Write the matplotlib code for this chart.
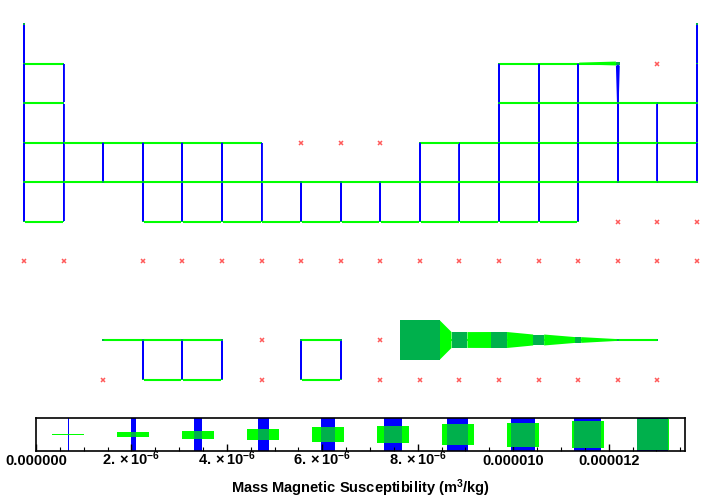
import numpy as np
import matplotlib
matplotlib.use("Agg")
import matplotlib.pyplot as plt
from matplotlib.patches import Polygon, Rectangle
import matplotlib.transforms as mtransforms

plt.rcParams['font.family'] = ['Liberation Sans', 'DejaVu Sans']
plt.rcParams['mathtext.fontset'] = 'custom'
plt.rcParams['mathtext.rm'] = 'Liberation Sans:bold'
plt.rcParams['mathtext.it'] = 'Liberation Sans:bold'
plt.rcParams['mathtext.bf'] = 'Liberation Sans:bold'
plt.rcParams['mathtext.default'] = 'bf'

E = None          # no element in this cell
M = np.nan        # element without data

# Mass magnetic susceptibility (m^3/kg), periodic-table layout (18 columns)
period1 = [-2.48e-8, E, E, E, E, E, E, E, E, E, E, E, E, E, E, E, E, -5.9e-9]
period2 = [2.56e-8, -1.3e-8, E, E, E, E, E, E, E, E, E, E,
           -8.7e-9, -6.2e-9, -5.4e-9, 1.335e-6, M, -4.1e-9]
period3 = [8.8e-9, 6.9e-9, E, E, E, E, E, E, E, E, E, E,
           7.8e-9, -1.6e-9, -1.13e-8, -6.2e-9, -7.2e-9, -6.0e-9]
period4 = [6.7e-9, 1.38e-8, 8.8e-8, 4.01e-8, 6.28e-8, 4.45e-8, 1.21e-7, M, M, M,
           -1.08e-9, -2.21e-9, -3.0e-9, -1.5e-9, -3.9e-9, -4.0e-9, -4.9e-9, -4.4e-9]
period5 = [2.6e-9, 1.32e-9, 2.15e-8, 1.66e-8, 2.76e-8, 1.17e-8, 3.4e-8, 5.4e-9, 1.36e-8,
           6.57e-8, -2.31e-9, -2.3e-9, -1.4e-9, -3.1e-9, -8.5e-9, -3.9e-9, -4.5e-9, -4.3e-9]
period6 = [2.8e-9, 1.13e-8, E, 5.3e-9, 1.07e-8, 4.59e-9, 4.56e-9, 5.2e-10, 1.67e-9,
           1.22e-8, -1.78e-9, -2.1e-9, -3.0e-9, -1.5e-9, -1.7e-8, M, M, M]
period7 = [M, M, E, M, M, M, M, M, M, M, M, M, M, M, M, M, M, M]
lanthanides = [E, E, 1.1e-8, 2.2e-7, 4.23e-7, 4.8e-7, M, 1.11e-7, 2.76e-7, M,
               1.36e-5, 5.45e-6, 5.49e-6, 3.77e-6, 1.99e-6, 5.9e-9, 1.2e-9, E]
actinides = [E, E, M, 7.2e-9, 3.25e-8, 2.16e-8, M, 3.17e-8, 5.15e-8, M,
             M, M, M, M, M, M, M, E]

table_rows = [period1, period2, period3, period4, period5, period6, period7,
              lanthanides, actinides]
row_numbers = [1, 2, 3, 4, 5, 6, 7, 9, 10]

legend_ticks = [0, 2e-6, 4e-6, 6e-6, 8e-6, 1e-5, 1.2e-5]
legend_labels = ['0.000000', r'$2.\times10^{-6}$', r'$4.\times10^{-6}$',
                 r'$6.\times10^{-6}$', r'$8.\times10^{-6}$', '0.000010', '0.000012']

GREEN = '#00ff00'
BLUE = '#0000ff'
DARK = '#00b04c'
RED = '#ff5a5a'

vals = [v for row in table_rows for v in row if v is not None and not np.isnan(v)]
vmax = max(abs(v) for v in vals)
tmin = 0.045

def thick(v):
    return max(abs(v) / vmax, tmin)

def present(v):
    return v is not None and not np.isnan(v)

fig = plt.figure(figsize=(7.2, 5.0), dpi=100)
ax = fig.add_axes([0, 0.2, 1, 0.8])
ax.set_xlim(1 - 24 / 39.59, 1 + 696 / 39.59)
ax.set_ylim(1 + 376 / 39.5, 1 - 24 / 39.5)
ax.axis('off')

grid = {}
for row, rn in zip(table_rows, row_numbers):
    for ci, v in enumerate(row):
        if v is not None:
            grid[(ci + 1, rn)] = v

LW = 1.3  # points, minimum visible line width

# vertical (blue) links
for (c, r), v in grid.items():
    nb = grid.get((c, r + 1))
    if present(v) and nb is not None and present(nb):
        ha, hb = thick(v) / 2, thick(nb) / 2
        ax.plot([c, c], [r + ha, r + 1 - hb], color=BLUE, lw=LW,
                solid_capstyle='butt', zorder=1)
        poly = [(c - ha, r + ha), (c - hb, r + 1 - hb), (c + hb, r + 1 - hb), (c + ha, r + ha)]
        ax.add_patch(Polygon(poly, closed=True, facecolor=BLUE, edgecolor='none', zorder=1))

# horizontal (green) links
for (c, r), v in grid.items():
    nb = grid.get((c + 1, r))
    if present(v) and nb is not None and present(nb):
        ha, hb = thick(v) / 2, thick(nb) / 2
        ax.plot([c + ha, c + 1 - hb], [r, r], color=GREEN, lw=LW + 0.2,
                solid_capstyle='butt', zorder=2)
        poly = [(c + ha, r - ha), (c + 1 - hb, r - hb), (c + 1 - hb, r + hb), (c + ha, r + ha)]
        ax.add_patch(Polygon(poly, closed=True, facecolor=GREEN, edgecolor='none', zorder=2))

# element squares and missing markers
for (c, r), v in grid.items():
    if present(v):
        h = thick(v) / 2
        ax.add_patch(Rectangle((c - h, r - h), 2 * h, 2 * h, facecolor=DARK,
                               edgecolor='none', zorder=3))
    else:
        ax.plot([c], [r], marker='x', color=RED, ms=3.5, mew=1.1, zorder=4)

# legend bar
lax = fig.add_axes([36 / 720, 1 - 451 / 500, 649 / 720, 33 / 500])
lax.set_xlim(0, vmax)
lax.set_ylim(-16.5, 16.5)
px = vmax / 649.0
for k in range(10):
    v = (k + 0.5) * vmax / 10
    w = max(v / vmax * 32, 1.6)
    lax.add_patch(Rectangle((v - w / 2 * px, -20), w * px, 40, facecolor=BLUE,
                            edgecolor='none', zorder=1))
    lax.add_patch(Rectangle((v - 16 * px, -w / 2), 32 * px, w, facecolor=GREEN,
                            edgecolor='none', zorder=2))
    lax.add_patch(Rectangle((v - w / 2 * px, -w / 2), w * px, w, facecolor=DARK,
                            edgecolor='none', zorder=3))
for s in lax.spines.values():
    s.set_linewidth(1.2)
    s.set_zorder(5)
lax.set_yticks([])
lax.set_xticks(legend_ticks)
lax.set_xticks(np.arange(0, vmax, 0.5e-6), minor=True)
lax.set_xticklabels([])
lax.tick_params(axis='x', which='major', direction='in', length=5, width=1)
lax.tick_params(axis='x', which='minor', direction='in', length=3, width=0.8)
trans = mtransforms.blended_transform_factory(lax.transData, lax.transAxes)
for t, lab in zip(legend_ticks, legend_labels):
    lax.text(t, -0.43, lab, transform=trans, ha='center', va='baseline',
             fontsize=10.5, fontweight='bold')

fig.text(0.5, 1 - 488 / 500, r'Mass Magnetic Susceptibility (m$^3$/kg)',
         ha='center', va='center', fontsize=10.5, fontweight='bold')

fig.savefig('out.png', dpi=100)
